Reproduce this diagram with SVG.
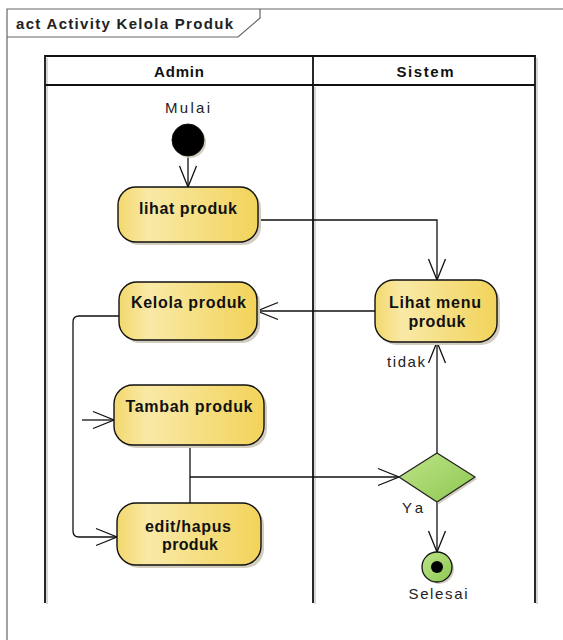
<svg xmlns="http://www.w3.org/2000/svg" width="563" height="640" viewBox="0 0 563 640">
<style>
.frame{fill:none;stroke:#666;stroke-width:1.2}
.lane{fill:none;stroke:#111;stroke-width:1.8}
.laneSh{fill:none;stroke:#bbb;stroke-width:1.2}
.node{fill:url(#yel);stroke:#111;stroke-width:1.4}
.sh{fill:#d3cdc0}
.conn{fill:none;stroke:#111;stroke-width:1.3}
.bt{font-family:"Liberation Sans",Arial,sans-serif;font-weight:bold;font-size:16px;fill:#111;text-anchor:middle}
.hd{font-family:"Liberation Sans",Arial,sans-serif;font-weight:bold;font-size:15px;fill:#111;text-anchor:middle}
.lb{font-family:"Liberation Sans",Arial,sans-serif;font-size:15px;fill:#222}
</style>
<defs>
<linearGradient id="yel" x1="0" y1="0" x2="1" y2="0">
<stop offset="0" stop-color="#f3d86e"/>
<stop offset="0.22" stop-color="#f9e9a6"/>
<stop offset="1" stop-color="#f2d35a"/>
</linearGradient>
<linearGradient id="grn" x1="0" y1="0" x2="1" y2="1">
<stop offset="0" stop-color="#bfe38a"/>
<stop offset="1" stop-color="#8dc850"/>
</linearGradient>
<marker id="arr" markerUnits="userSpaceOnUse" viewBox="-24 -11 26 22" refX="0" refY="0" markerWidth="26" markerHeight="22" orient="auto">
<path d="M-21,-8.5 L0,0 L-21,8.5" fill="none" stroke="#111" stroke-width="1.3"/>
</marker>
</defs>
<rect width="563" height="640" fill="#fff"/>
<g id="frame">
<path class="frame" d="M7,640 V9 H563"/>
<path class="frame" d="M7,37 H238 L260,18 V9"/>
<text class="lb" x="16" y="29" font-weight="bold" font-size="16" textLength="217" fill="#111">act Activity Kelola Produk</text>
</g>
<g id="lanes">
<path class="laneSh" d="M47,58 V604 M315,87 V604 M537,58 V604"/>
<path class="lane" d="M45,603 V56 H535 V603 M45,85 H535 M313,56 V603"/>
<text class="hd" x="179" y="77" textLength="50">Admin</text>
<text class="hd" x="425" y="77" textLength="57">Sistem</text>
</g>
<g id="connectors">
<path class="conn" d="M188,156 V187" marker-end="url(#arr)"/>
<path class="conn" d="M258,220 H437 V280" marker-end="url(#arr)"/>
<path class="conn" d="M375,311 H257" marker-end="url(#arr)"/>
<path class="conn" d="M119,316 H79 Q73,316 73,322 V531 Q73,537 79,537 H117" marker-end="url(#arr)"/>
<path class="conn" d="M82,420 H114" marker-end="url(#arr)"/>
<path class="conn" d="M190,445 V503"/>
<path class="conn" d="M190,477 H399" marker-end="url(#arr)"/>
<path class="conn" d="M437,453 V342" marker-end="url(#arr)"/>
<path class="conn" d="M437,502 V552" marker-end="url(#arr)"/>
<text class="lb" x="387" y="367" textLength="38">tidak</text>
<text class="lb" x="402" y="513" textLength="21">Ya</text>
</g>
<g id="start">
<circle cx="190" cy="142" r="16" class="sh"/>
<circle cx="188" cy="140" r="16" fill="#000" stroke="#111" stroke-width="1"/>
<text class="lb" x="165" y="113" textLength="45">Mulai</text>
</g>
<g id="lihat-produk">
<rect x="121" y="190" width="140" height="55" rx="18" class="sh"/>
<rect x="118" y="187" width="140" height="55" rx="18" class="node"/>
<text class="bt" x="188" y="214" textLength="98">lihat produk</text>
</g>
<g id="kelola-produk">
<rect x="122" y="285" width="138" height="58" rx="18" class="sh"/>
<rect x="119" y="282" width="138" height="58" rx="18" class="node"/>
<text class="bt" x="188.5" y="308" textLength="115">Kelola produk</text>
</g>
<g id="tambah-produk">
<rect x="117" y="388" width="150" height="60" rx="19" class="sh"/>
<rect x="114" y="385" width="150" height="60" rx="19" class="node"/>
<text class="bt" x="189" y="412" textLength="127">Tambah produk</text>
</g>
<g id="edit-hapus-produk">
<rect x="120" y="506" width="144" height="62" rx="19" class="sh"/>
<rect x="117" y="503" width="144" height="62" rx="19" class="node"/>
<text class="bt" x="188" y="532" textLength="86">edit/hapus</text>
<text class="bt" x="190" y="550" textLength="56">produk</text>
</g>
<g id="lihat-menu-produk">
<rect x="378" y="283" width="122" height="62" rx="19" class="sh"/>
<rect x="375" y="280" width="122" height="62" rx="19" class="node"/>
<text class="bt" x="435" y="308" textLength="92">Lihat menu</text>
<text class="bt" x="437" y="327" textLength="57">produk</text>
</g>
<g id="decision">
<polygon points="401,479 439,455 477,479 439,504" class="sh"/>
<polygon points="399,477 437,453 475,477 437,502" fill="url(#grn)" stroke="#222" stroke-width="1.2"/>
</g>
<g id="end">
<circle cx="439" cy="569" r="15" class="sh"/>
<circle cx="437" cy="567" r="15" fill="url(#grn)" stroke="#111" stroke-width="1.3"/>
<circle cx="437" cy="567" r="6" fill="#000"/>
<text class="lb" x="408.5" y="599" textLength="59">Selesai</text>
</g>
</svg>
